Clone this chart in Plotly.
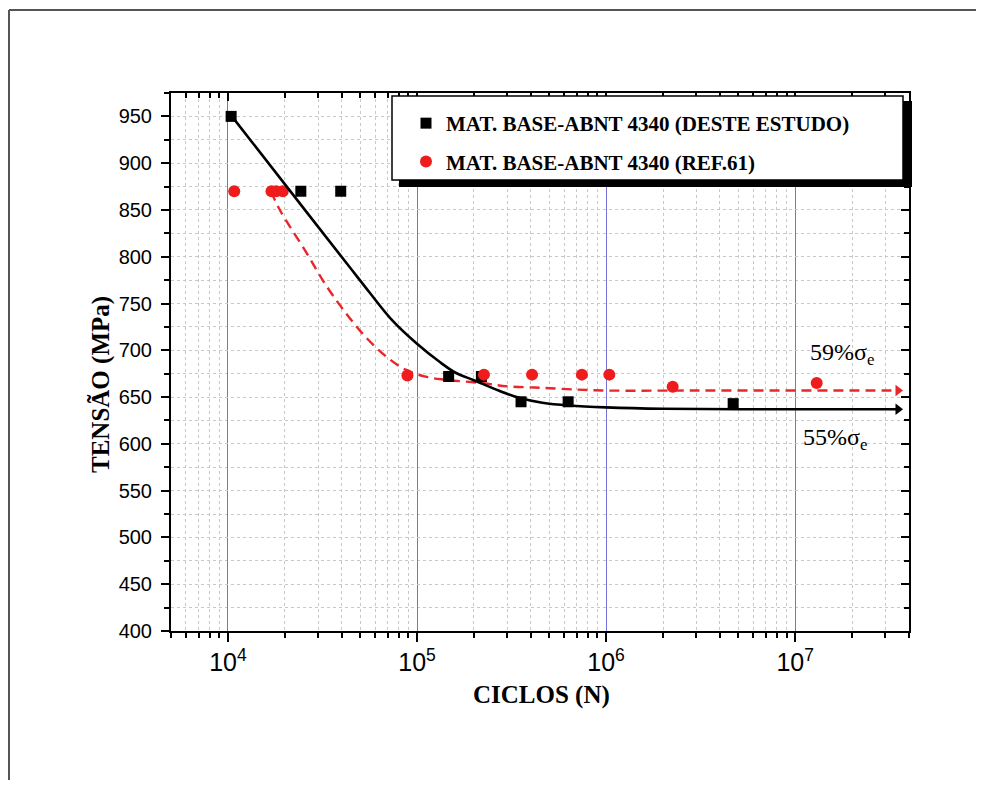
import math
import plotly.graph_objects as go

# ---------------- data ----------------
study_N = [1.04e4, 2.43e4, 3.95e4, 1.47e5, 2.19e5, 3.55e5, 6.3e5, 4.7e6]
study_S = [950, 870, 870, 672, 672, 645, 645, 643]

ref_N = [1.08e4, 1.7e4, 1.8e4, 1.95e4, 8.9e4, 2.26e5, 4.06e5, 7.45e5, 1.04e6, 2.25e6, 1.30e7]
ref_S = [870, 870, 870, 870, 673, 674, 674, 674, 674, 661, 665]

fit_study_N = [1.05e4, 2.4e4, 4.4e4, 5.6e4, 7.4e4, 1e5, 1.31e5, 1.6e5, 2.0e5,
               2.7e5, 3.5e5, 4.6e5, 6.4e5, 1e6, 2e6, 1e7, 3.5e7]
fit_study_S = [950, 857, 789, 762, 732, 707, 688, 676, 668,
               657, 649, 644, 641, 639, 637.5, 637, 637]

fit_ref_N = [1.69e4, 1.87e4, 2.59e4, 3.3e4, 4.21e4, 5.36e4, 6.84e4, 8.7e4, 1.11e5, 1.41e5,
             2.2e5, 3e5, 4.5e5, 7e5, 1e6, 3e6, 1e7, 3.5e7]
fit_ref_S = [870, 851, 805, 769.5, 739.6, 714, 693.7, 679.3, 671.8, 668.6,
             665, 661.5, 660, 658, 657, 657, 657, 657]

name_study = "MAT. BASE-ABNT 4340 (DESTE ESTUDO)"
name_ref = "MAT. BASE-ABNT 4340 (REF.61)"
label_59 = "59%σ<sub>e</sub>"
label_55 = "55%σ<sub>e</sub>"
x_title = "CICLOS (N)"
y_title = "TENSÃO (MPa)"

x_range = [math.log10(5000), math.log10(4e7)]
y_range = [400, 975]

# ---------------- layout geometry (screen pixels) ----------------
OFF = 8                          # default page body margin
W, H = 984 - 2 * OFF, 788 - 2 * OFF   # keep page within window (no scrollbars)
L, R, T, B = 171, 909, 93, 631   # plot area on screen
pw, ph = R - L, B - T


def px(x):
    return (x - L) / pw


def py(y):
    return (B - y) / ph


SERIF = "Liberation Serif"
SANS = "Liberation Sans"
RED = "#ee1c1c"

fig = go.Figure()

# fitted curves
fig.add_trace(go.Scatter(
    x=fit_ref_N, y=fit_ref_S, mode="lines",
    line=dict(color="#e8262b", width=2.4, dash="10px,6px", shape="spline", smoothing=1.0),
    showlegend=False, hoverinfo="skip"))
fig.add_trace(go.Scatter(
    x=[fit_ref_N[-1]], y=[fit_ref_S[-1]], mode="markers",
    marker=dict(symbol="triangle-right", size=10, color="#e8262b"),
    showlegend=False, hoverinfo="skip", cliponaxis=False))

# data markers
fig.add_trace(go.Scatter(
    x=study_N, y=study_S, mode="markers", name=name_study, legendgroup="a",
    marker=dict(symbol="square", size=11, color="black")))
fig.add_trace(go.Scatter(
    x=ref_N, y=ref_S, mode="markers", name=name_ref, legendgroup="b",
    marker=dict(symbol="circle", size=12, color=RED)))

# black fit on overlay axes (same ranges) -> provides top/right inside ticks
fig.add_trace(go.Scatter(
    x=fit_study_N, y=fit_study_S, mode="lines",
    line=dict(color="black", width=2.6, shape="spline", smoothing=1.0),
    xaxis="x2", yaxis="y2", showlegend=False, hoverinfo="skip"))
fig.add_trace(go.Scatter(
    x=[fit_study_N[-1]], y=[fit_study_S[-1]], mode="markers",
    marker=dict(symbol="triangle-right", size=10, color="black"),
    xaxis="x2", yaxis="y2", showlegend=False, hoverinfo="skip", cliponaxis=False))

tickfont = dict(family=SANS, size=20, color="black")

fig.update_layout(
    width=W, height=H,
    margin=dict(l=L - OFF, r=(OFF + W) - R, t=T - OFF, b=(OFF + H) - B, pad=0),
    paper_bgcolor="white",
    plot_bgcolor="white",
    showlegend=True,
    legend=dict(
        x=px(406), y=py(103), xanchor="left", yanchor="top",
        bgcolor="rgba(0,0,0,0)", borderwidth=0,
        font=dict(family=SERIF, size=21, color="black", weight="bold"),
        tracegroupgap=8, itemwidth=30,
    ),
    xaxis=dict(
        type="log", range=x_range, dtick=1, exponentformat="power",
        showline=True, linecolor="black", linewidth=2, mirror=True,
        ticks="outside", ticklen=9, tickwidth=2, tickcolor="black",
        tickfont=tickfont, ticklabelstandoff=0,
        showgrid=True, gridcolor="#7272d8", gridwidth=1,
        zeroline=False,
        minor=dict(dtick="D1", ticks="outside", ticklen=5, tickwidth=2, tickcolor="black",
                   showgrid=True, gridcolor="#c8c8c8", griddash="dot", gridwidth=1),
    ),
    yaxis=dict(
        range=y_range, dtick=50, tick0=0,
        showline=True, linecolor="black", linewidth=2, mirror=True,
        ticks="outside", ticklen=8, tickwidth=2, tickcolor="black",
        tickfont=tickfont, ticklabelstandoff=5,
        showgrid=True, gridcolor="#c8c8c8", griddash="dot", gridwidth=1,
        zeroline=False,
        minor=dict(dtick=25, ticks="outside", ticklen=5, tickwidth=2, tickcolor="black",
                   showgrid=True, gridcolor="#c8c8c8", griddash="dot", gridwidth=1),
    ),
    xaxis2=dict(
        type="log", range=x_range, dtick=1, overlaying="x", side="top", anchor="y2",
        showticklabels=False, showgrid=False, zeroline=False, showline=False,
        ticks="inside", ticklen=8, tickwidth=2, tickcolor="black",
        minor=dict(dtick="D1", ticks="inside", ticklen=5, tickwidth=2, tickcolor="black",
                   showgrid=False),
    ),
    yaxis2=dict(
        range=y_range, dtick=50, tick0=0, overlaying="y", side="right", anchor="x2",
        showticklabels=False, showgrid=False, zeroline=False, showline=False,
        ticks="inside", ticklen=8, tickwidth=2, tickcolor="black",
        minor=dict(dtick=25, ticks="inside", ticklen=5, tickwidth=2, tickcolor="black",
                   showgrid=False),
    ),
)

# legend box with shadow
fig.add_shape(type="rect", xref="paper", yref="paper", layer="above",
              x0=px(399), x1=px(912), y0=py(187), y1=py(101),
              fillcolor="black", line=dict(width=0))
fig.add_shape(type="rect", xref="paper", yref="paper", layer="above",
              x0=px(392), x1=px(903), y0=py(180), y1=py(96),
              fillcolor="white", line=dict(color="black", width=1.5))

# outer frame lines (top and left)
fig.add_shape(type="line", xref="paper", yref="paper",
              x0=px(9), x1=px(OFF + W), y0=py(10), y1=py(10),
              line=dict(color="#555555", width=2))
fig.add_shape(type="line", xref="paper", yref="paper",
              x0=px(9), x1=px(9), y0=py(10), y1=py(OFF + H),
              line=dict(color="#555555", width=2))

# annotations
fig.add_annotation(xref="paper", yref="paper", x=px(808), y=py(354), xanchor="left",
                   text=label_59, showarrow=False,
                   font=dict(family=SERIF, size=24, color="black"))
fig.add_annotation(xref="paper", yref="paper", x=px(801), y=py(439), xanchor="left",
                   text=label_55, showarrow=False,
                   font=dict(family=SERIF, size=24, color="black"))
fig.add_annotation(xref="paper", yref="paper", x=px(541), y=py(711),
                   text="<b>" + x_title + "</b>", showarrow=False,
                   font=dict(family=SERIF, size=25, color="black"))
fig.add_annotation(xref="paper", yref="paper", x=px(85), y=py(385),
                   text="<b>" + y_title + "</b>", showarrow=False, textangle=-90,
                   font=dict(family=SERIF, size=25, color="black"))

fig.write_html("out.html")
